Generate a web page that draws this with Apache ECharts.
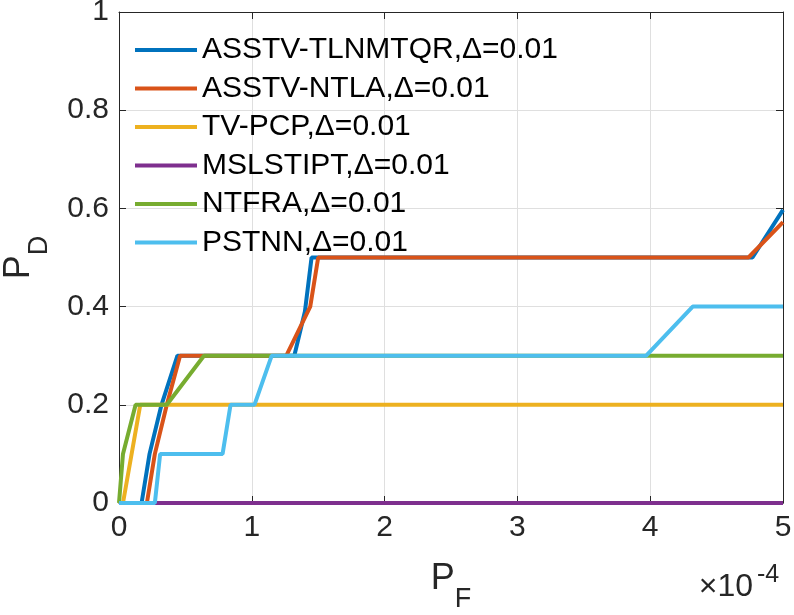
<!DOCTYPE html>
<html>
<head>
<meta charset="utf-8">
<script src="https://cdn.jsdelivr.net/npm/echarts@6/dist/echarts.min.js"></script>
<style>
  html, body { margin: 0; padding: 0; background: #fff; }
  #chart { width: 794px; height: 615px; }
</style>
</head>
<body>
<div id="chart"></div>
<script>
// P_F values are in units of 1e-4 (axis shows the x10^-4 multiplier)
const seriesNames = [
  'ASSTV-TLNMTQR,\u0394=0.01',
  'ASSTV-NTLA,\u0394=0.01',
  'TV-PCP,\u0394=0.01',
  'MSLSTIPT,\u0394=0.01',
  'NTFRA,\u0394=0.01',
  'PSTNN,\u0394=0.01'
];
const colors = ['#0072BD', '#D95319', '#EDB120', '#7E2F8E', '#77AC30', '#4DBEEE'];

const tlnmtqrPF = [0, 0.17, 0.23, 0.32, 0.44, 1.32, 1.40, 1.45, 4.77, 5];
const tlnmtqrPD = [0, 0, 0.1, 0.2, 0.3, 0.3, 0.39, 0.5, 0.5, 0.597];

const ntlaPF = [0, 0.21, 0.27, 0.36, 0.46, 1.26, 1.44, 1.50, 4.74, 5];
const ntlaPD = [0, 0, 0.1, 0.2, 0.3, 0.3, 0.4, 0.5, 0.5, 0.572];

const tvpcpPF = [0, 0.03, 0.16, 5];
const tvpcpPD = [0, 0, 0.2, 0.2];

const mslstiptPF = [0, 5];
const mslstiptPD = [0, 0];

const ntfraPF = [0, 0.03, 0.125, 0.36, 0.64, 5];
const ntfraPD = [0, 0.1, 0.2, 0.2, 0.3, 0.3];

const pstnnPF = [0, 0.27, 0.31, 0.78, 0.84, 1.02, 1.15, 3.97, 4.32, 5];
const pstnnPD = [0, 0, 0.1, 0.1, 0.2, 0.2, 0.3, 0.3, 0.4, 0.4];

const allPF = [tlnmtqrPF, ntlaPF, tvpcpPF, mslstiptPF, ntfraPF, pstnnPF];
const allPD = [tlnmtqrPD, ntlaPD, tvpcpPD, mslstiptPD, ntfraPD, pstnnPD];

const FONT = '"Liberation Sans", Arial, Helvetica, sans-serif';
const AXIS_COLOR = '#262626';

let chartDom = document.getElementById('chart');
let myChart = echarts.init(chartDom);

let subRich = {
  p: { fontSize: 36, fontFamily: FONT, color: AXIS_COLOR, verticalAlign: 'top' },
  s: { fontSize: 27, fontFamily: FONT, color: AXIS_COLOR, verticalAlign: 'bottom', padding: [25, 0, 0, 0] }
};

let option = {
  animation: false,
  color: colors,
  grid: { left: 119, right: 11, top: 12, bottom: 112, containLabel: false, outerBoundsMode: 'none' },
  legend: {
    orient: 'vertical',
    left: 130,
    top: 30,
    icon: 'rect',
    itemWidth: 62,
    itemHeight: 4,
    itemGap: 8.5,
    padding: 5,
    textStyle: { fontSize: 30, lineHeight: 30, fontFamily: FONT, color: '#000' },
    data: seriesNames
  },
  xAxis: [
    {
      type: 'value',
      min: 0,
      max: 5,
      interval: 1,
      name: '{p|P}{s|F}',
      nameLocation: 'middle',
      nameGap: 58,
      nameTextStyle: { rich: subRich },
      axisLine: { show: true, onZero: false, lineStyle: { color: AXIS_COLOR, width: 1 } },
      axisTick: { show: true, inside: true, length: 7, lineStyle: { color: AXIS_COLOR } },
      axisLabel: {
        fontSize: 30, fontFamily: FONT, color: AXIS_COLOR, margin: 10,
        formatter: v => String(v)
      },
      splitLine: { show: true, lineStyle: { color: '#dfdfdf', width: 1 } }
    },
    {
      type: 'value',
      position: 'top',
      min: 0,
      max: 5,
      interval: 1,
      axisLine: { show: true, onZero: false, lineStyle: { color: AXIS_COLOR, width: 1 } },
      axisTick: { show: true, inside: true, length: 7, lineStyle: { color: AXIS_COLOR } },
      axisLabel: { show: false },
      splitLine: { show: false }
    }
  ],
  yAxis: [
    {
      type: 'value',
      min: 0,
      max: 1,
      interval: 0.2,
      name: '{p|P}{s|D}',
      nameLocation: 'middle',
      nameRotate: 90,
      nameGap: 66,
      nameTextStyle: { rich: subRich },
      axisLine: { show: true, onZero: false, lineStyle: { color: AXIS_COLOR, width: 1 } },
      axisTick: { show: true, inside: true, length: 7, lineStyle: { color: AXIS_COLOR } },
      axisLabel: { fontSize: 30, fontFamily: FONT, color: AXIS_COLOR, margin: 10 },
      splitLine: { show: true, lineStyle: { color: '#dfdfdf', width: 1 } }
    },
    {
      type: 'value',
      position: 'right',
      min: 0,
      max: 1,
      interval: 0.2,
      axisLine: { show: true, onZero: false, lineStyle: { color: AXIS_COLOR, width: 1 } },
      axisTick: { show: true, inside: true, length: 7, lineStyle: { color: AXIS_COLOR } },
      axisLabel: { show: false },
      splitLine: { show: false }
    }
  ],
  graphic: [
    {
      type: 'text',
      right: 41,
      top: 571,
      style: { text: '\u00d710', fontSize: 32, fontFamily: FONT, fill: AXIS_COLOR }
    },
    {
      type: 'text',
      left: 757,
      top: 563,
      style: { text: '-4', fontSize: 25, fontFamily: FONT, fill: AXIS_COLOR }
    }
  ],
  series: seriesNames.map(function (name, i) {
    return {
      name: name,
      type: 'line',
      xAxisIndex: 0,
      yAxisIndex: 0,
      symbol: 'none',
      lineStyle: { width: 4, color: colors[i] },
      itemStyle: { color: colors[i] },
      data: allPF[i].map(function (x, j) { return [x, allPD[i][j]]; })
    };
  })
};

myChart.setOption(option, true);

window.addEventListener('resize', () => {
  myChart.resize()
})
</script>
</body>
</html>
